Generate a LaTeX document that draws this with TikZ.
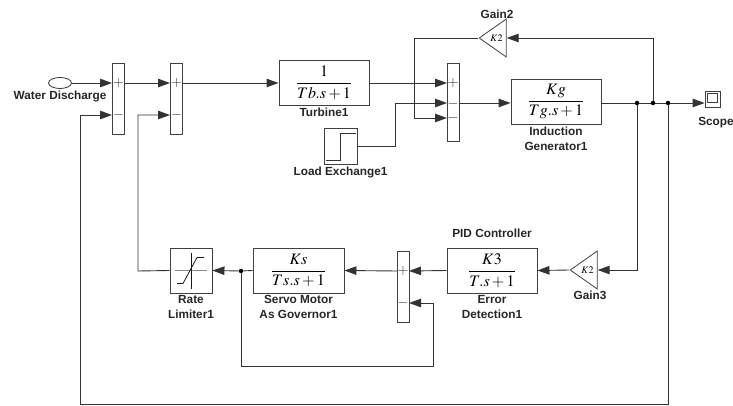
\documentclass[tikz,border=0pt]{standalone}
\usepackage{amsmath}
\usepackage{mathptmx}
\usepackage{fontspec}
\setmainfont{Liberation Serif}
\setsansfont{Liberation Sans}
\usetikzlibrary{arrows.meta,shapes.geometric,positioning}
\tikzstyle{block} = [draw=black!75, fill=white, line width=0.9pt, rectangle, minimum width=90pt, minimum height=45pt, inner sep=0pt, font=\fontsize{16}{19}\selectfont]
\tikzstyle{sumbar} = [draw=black!75, fill=white, line width=0.9pt, rectangle, minimum width=12pt, inner sep=0pt]
\tikzstyle{gain} = [draw=black!75, fill=white, line width=0.8pt, isosceles triangle, isosceles triangle stretches, shape border rotate=180, minimum width=38pt, minimum height=27pt, inner sep=0pt, font=\fontsize{10}{10}\selectfont]
\tikzstyle{caption} = [font=\sffamily\bfseries\fontsize{11.8}{15}\selectfont, inner sep=1pt, align=center, text=black!85]
\tikzstyle{sign} = [font=\fontsize{14}{14}\selectfont, text=black!80, inner sep=0pt]
\tikzstyle{wire} = [draw=black!80, line width=0.9pt]
\tikzstyle{signal} = [wire, -{Triangle[length=12pt,width=8.5pt]}]
\tikzstyle{dot} = [circle, fill=black, inner sep=0pt, minimum size=4.5pt]

\begin{document}
\begin{tikzpicture}[x=1pt,y=-1pt]
	\useasboundingbox (0,0) rectangle (733,406);
	% upper path
	\node[draw=black!80, line width=0.8pt, ellipse, minimum width=23pt, minimum height=11pt, inner sep=0pt] (wd) at (60,83) {};
	\node[caption, below=1pt] at (wd.south) {Water Discharge};
	\node[sumbar, minimum height=71pt] (sumA) at (118.5,98.5) {};
	\node[sumbar, minimum height=71pt] (sumB) at (176.5,98.5) {};
	\node[block] (turb) at (324,83) {$\displaystyle\frac{1}{Tb.s+1}$};
	\node[caption, below=1pt] at (turb.south) {Turbine1};
	\node[sumbar, minimum height=78pt] (sumC) at (453,102) {};
	\node[block] (gen) at (556,101.5) {$\displaystyle\frac{Kg}{Tg.s+1}$};
	\node[caption, below=1pt] at (gen.south) {Induction\\Generator1};
	\node[gain] (gain2) at (496.5,38) {$K2$};
	\node[caption] at (497,14) {Gain2};
	\node[block, minimum width=33pt, minimum height=36pt] (load) at (340.5,146) {};
	\node[caption, below=1pt] at (load.south) {Load Exchange1};
	\node[draw=black!75, line width=0.8pt, minimum width=15pt, minimum height=16pt, inner sep=0pt] (scope) at (712.5,99) {};
	\node[caption] at (716,123) {Scope};
	% lower path
	\node[gain] (gain3) at (587.5,270) {$K2$};
	\node[caption] at (590,295) {Gain3};
	\node[block] (pid) at (492,270.5) {$\displaystyle\frac{K3}{T.s+1}$};
	\node[caption, above=9pt] at (pid.north) {PID Controller};
	\node[caption, below=1pt] at (pid.south) {Error\\Detection1};
	\node[sumbar, minimum height=71pt] (sumD) at (403,286.5) {};
	\node[block, minimum width=91pt] (servo) at (298.5,270.5) {$\displaystyle\frac{Ks}{Ts.s+1}$};
	\node[caption, below=1pt] at (servo.south) {Servo Motor\\As Governor1};
	\node[block, minimum width=42pt] (rate) at (191,270.5) {};
	\node[caption, below=1pt] at (rate.south) {Rate\\Limiter1};

	% signs of the sums
	\node[sign] at (118.5,83) {$+$};
	\node[sign] at (118.5,115) {$-$};
	\node[sign] at (176.5,83) {$+$};
	\node[sign] at (176.5,115) {$-$};
	\node[sign] at (453,83) {$+$};
	\node[sign] at (453,104) {$-$};
	\node[sign] at (453,118) {$-$};
	\node[sign] at (403,271) {$+$};
	\node[sign] at (403,303) {$-$};

	% icons
	\draw[black!80, line width=0.8pt] (load.center) ++(-15,14) -- ++(15,0) -- ++(0,-27) -- ++(15,0);
	\draw[black!75, line width=0.8pt] (scope.center) ++(-5,-6) rectangle ++(10,9);
	\draw[black!45, line width=1.2pt] (rate.center) ++(-16,0) -- ++(32,0);
	\draw[black!90, line width=0.8pt] (rate.center) ++(0,-18) -- ++(0,36);
	\draw[black!90, line width=0.8pt] (rate.center) ++(-14,13) -- ++(6,0) -- ++(14,-26) -- ++(7,0);

	% ports and bends
	\coordinate (a1) at (112,83);
	\coordinate (a2) at (112,115);
	\coordinate (ao) at (125,83);
	\coordinate (b1) at (170,83);
	\coordinate (b2) at (170,115);
	\coordinate (bo) at (183,83);
	\coordinate (c1) at (447,83);
	\coordinate (c2) at (447,103);
	\coordinate (c3) at (447,118);
	\coordinate (co) at (459,103);
	\coordinate (d1) at (409,271);
	\coordinate (d2) at (409,303);
	\coordinate (do) at (397,271);
	\coordinate (k1) at (414,118);
	\coordinate (k2) at (395,146);
	\coordinate (k3) at (433,366);
	\coordinate (k4) at (138,271);
	\coordinate (k5) at (80,404);
	\node[dot] (j1) at (637,103) {};
	\node[dot] (j2) at (653,103) {};
	\node[dot] (j3) at (668,103) {};
	\node[dot] (j4) at (241,271) {};

	% connections
	\draw[signal] (wd.east) -- (a1);
	\draw[signal] (ao) -- (b1);
	\draw[signal] (bo) -- (turb.west);
	\draw[signal] (turb.east) -- (c1);
	\draw[signal] (gain2.apex) -| (k1) -- (c3);
	\draw[signal] (load.east) -- (k2) |- (c2);
	\draw[signal] (co) -- (co -| gen.west);
	\draw[wire] (gen.east |- co) -- (j1) -- (j2) -- (j3);
	\draw[signal] (j3) -- (j3 -| scope.west);
	\draw[signal] (j2) |- (gain2.east);
	\draw[signal] (j1) |- (gain3.east);
	\draw[signal] (gain3.apex) -- (pid.east);
	\draw[signal] (pid.west) -- (d1);
	\draw[signal] (do) -- (servo.east);
	\draw[wire] (servo.west) -- (j4);
	\draw[signal] (j4) -- (rate.east);
	\draw[signal] (j4) |- (k3) |- (d2);
	\draw[signal] (rate.west) -- (k4) |- (b2);
	\draw[signal] (j3) |- (k5) |- (a2);
\end{tikzpicture}
\end{document}
